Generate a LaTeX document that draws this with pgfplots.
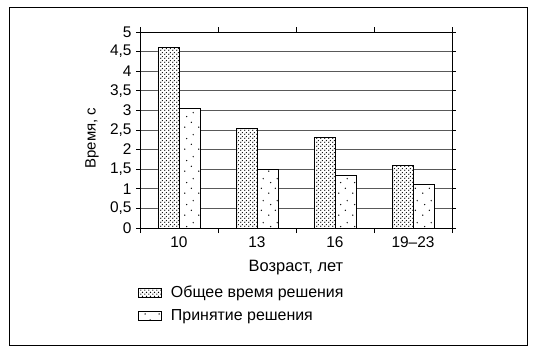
\documentclass[border=0pt]{standalone}
\usepackage{fontspec}
\setmainfont{Liberation Sans}
\usepackage{pgfplots}
\pgfplotsset{compat=1.18}
\usetikzlibrary{patterns,calc}

\pgfdeclarepatternformonly{densedots}{\pgfpointorigin}{\pgfpoint{4bp}{4bp}}{\pgfpoint{4bp}{4bp}}{
  \pgfpathcircle{\pgfpoint{1bp}{1bp}}{0.8bp}
  \pgfpathcircle{\pgfpoint{3bp}{3bp}}{0.8bp}
  \pgfusepath{fill}}
\pgfdeclarepatternformonly{sparsedots}{\pgfpointorigin}{\pgfpoint{14bp}{22bp}}{\pgfpoint{14bp}{22bp}}{
  \pgfpathcircle{\pgfpoint{3bp}{4bp}}{0.75bp}
  \pgfpathcircle{\pgfpoint{10bp}{9bp}}{0.75bp}
  \pgfpathcircle{\pgfpoint{5bp}{15bp}}{0.75bp}
  \pgfpathcircle{\pgfpoint{12bp}{19bp}}{0.75bp}
  \pgfusepath{fill}}

\begin{document}
\begin{tikzpicture}
\useasboundingbox (-140bp,-123bp) rectangle (399bp,228bp);
\draw[line width=1bp] (-130bp,-117bp) rectangle (387bp,220bp);
\begin{axis}[
  at={(0,0)}, anchor=south west,
  scale only axis, width=312bp, height=196bp,
  ybar=0pt, bar width=21bp,
  xmin=-0.5, xmax=3.5, ymin=0, ymax=5,
  xtick={0,1,2,3},
  xticklabels={10,13,16,19--23},
  major x tick style={draw=none},
  minor xtick={-0.5,0.5,1.5,2.5,3.5},
  minor tick length=5bp,
  ytick={0,0.5,...,5},
  major tick length=4bp,
  tick align=outside,
  tick style={black, line width=0.8bp},
  ymajorgrids,
  grid style={gray!70!black, line width=1bp},
  axis line style={black, line width=0.9bp},
  /pgf/number format/assume math mode=true,
  /pgf/number format/use comma,
  tick label style={font=\fontsize{15.5}{17}\selectfont},
  yticklabel style={xshift=-1bp},
  xticklabel style={yshift=-1bp},
  every axis x label/.style={at={($(rel axis cs:0.5,0)+(0,-40bp)$)}, anchor=center, font=\fontsize{16.5}{18}\selectfont},
  every axis y label/.style={at={($(rel axis cs:0,0.5)+(-48bp,-8bp)$)}, anchor=center, rotate=90, font=\fontsize{15}{17}\selectfont},
  xlabel={Возраст, лет},
  ylabel={Время, с},
  legend style={at={(rel axis cs:0,0)}, anchor=north west, xshift=-5bp, yshift=-54bp,
    draw=none, fill=none, font=\fontsize{16}{18}\selectfont, row sep=6bp,
    /tikz/every odd column/.append style={column sep=7bp}},
  legend cell align=left,
  legend image code/.code={\draw[#1] (0bp,-4.5bp) rectangle (23bp,4.5bp);},
  clip=false,
]
\addplot[draw=black, line width=0.8bp, fill=white, postaction={pattern=densedots}]
  coordinates {(0,4.6) (1,2.55) (2,2.3) (3,1.6)};
\addplot[draw=black, line width=0.8bp, fill=white, postaction={pattern=sparsedots}]
  coordinates {(0,3.05) (1,1.5) (2,1.35) (3,1.1)};
\legend{Общее время решения, Принятие решения}
\end{axis}
\end{tikzpicture}
\end{document}
